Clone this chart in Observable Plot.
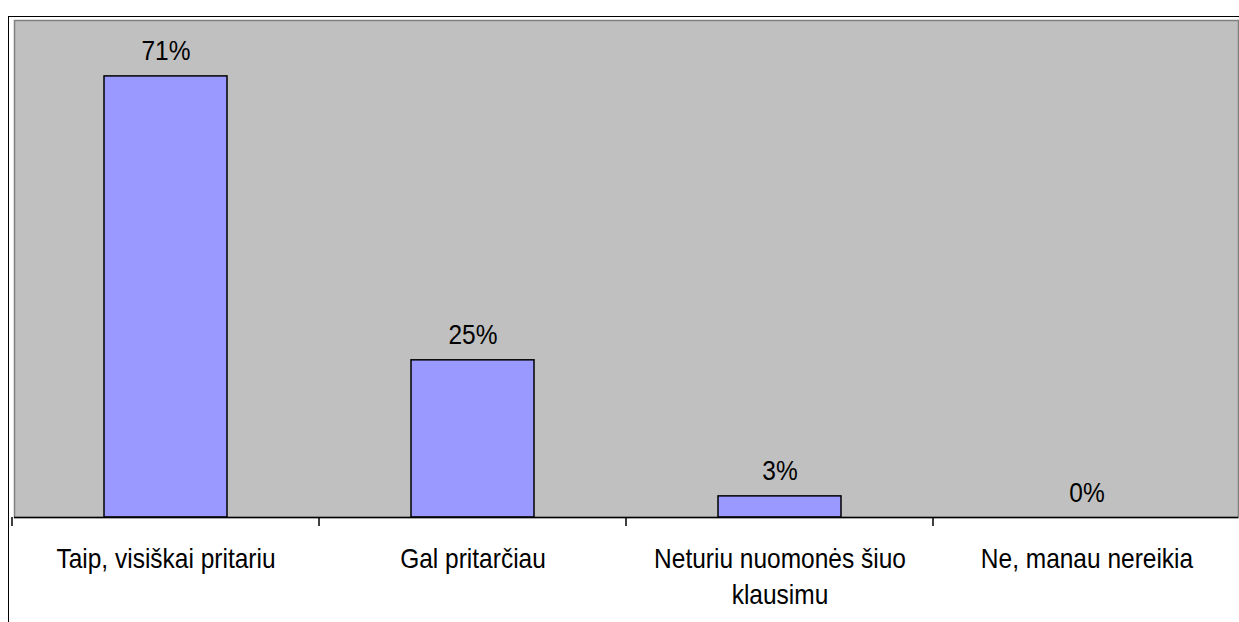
<!DOCTYPE html>
<html><head><meta charset="utf-8">
<script src="https://cdn.jsdelivr.net/npm/d3@7"></script>
<script src="https://cdn.jsdelivr.net/npm/@observablehq/plot@0.6"></script>
<style>
html,body{margin:0;padding:0;background:#fff;}
#wrap{position:relative;width:1239px;height:622px;overflow:hidden;}
#border{position:absolute;left:8px;top:16px;right:-2px;bottom:-2px;border-top:1.5px solid #000;border-left:1.5px solid #000;pointer-events:none;}
</style></head>
<body><div id="wrap"><div id="chart"></div><div id="border"></div></div>
<script>
const categories = ["Taip, visiškai pritariu", "Gal pritarčiau", "Neturiu nuomonės šiuo klausimu", "Ne, manau nereikia"];
const categoryLabels = ["Taip, visiškai pritariu", "Gal pritarčiau", "Neturiu nuomonės šiuo\nklausimu", "Ne, manau nereikia"];
const values = [71, 25.3, 3.4, 0];
const valueLabels = ["71%", "25%", "3%", "0%"];

const data = categories.map((c, i) => ({cat: c, label: categoryLabels[i], value: values[i], vlabel: valueLabels[i]}));

const FS = 24.5;
const chart = Plot.plot({
  width: 1239,
  height: 622,
  marginTop: 20,
  marginBottom: 105,
  marginLeft: 14,
  marginRight: 1,
  style: {fontFamily: "'Liberation Sans', Arial, sans-serif", fontSize: FS + "px", background: "transparent", overflow: "visible"},
  x: {domain: categories, paddingInner: 0.6, paddingOuter: 0.29, axis: null},
  y: {domain: [0, 80], axis: null},
  marks: [
    Plot.frame({fill: "#c0c0c0", stroke: "#808080", strokeWidth: 1.5}),
    Plot.barY(data.filter(d => d.value > 0), {x: "cat", y: "value", fill: "#9999ff", stroke: "#000", strokeWidth: 1.5}),
    Plot.ruleY([0], {stroke: "#000", strokeWidth: 1.5}),
    Plot.text(data, {x: "cat", y: "value", text: "vlabel", dy: -16, lineAnchor: "bottom", fontSize: FS, fill: "#000"}),
    Plot.text(data, {x: "cat", y: () => 0, text: "label", dy: 25, lineAnchor: "top", lineHeight: 1.27, fontSize: FS, fill: "#000"})
  ]
});
document.getElementById("chart").appendChild(chart);

// The reference text is vertically stretched; scale each label's glyphs
chart.querySelectorAll('g[aria-label="text"] text').forEach(t => {
  const tr = t.getAttribute("transform") || "";
  t.setAttribute("transform", tr + " scale(1,1.15)");
});

// Category separator ticks on the x axis, from the band scale
const sx = chart.scale("x");
const sy = chart.scale("y");
const gap = (sx.step - sx.bandwidth) / 2;
const edges = categories.map(c => sx.apply(c) - gap);
edges.push(edges[edges.length - 1] + sx.step);
const y0 = sy.apply(0);
d3.select(chart).append("g")
  .attr("stroke", "#000").attr("stroke-width", 1.5)
  .selectAll("line").data(edges).join("line")
  .attr("x1", d => d).attr("x2", d => d)
  .attr("y1", y0).attr("y2", y0 + 9);
</script>
</body></html>
